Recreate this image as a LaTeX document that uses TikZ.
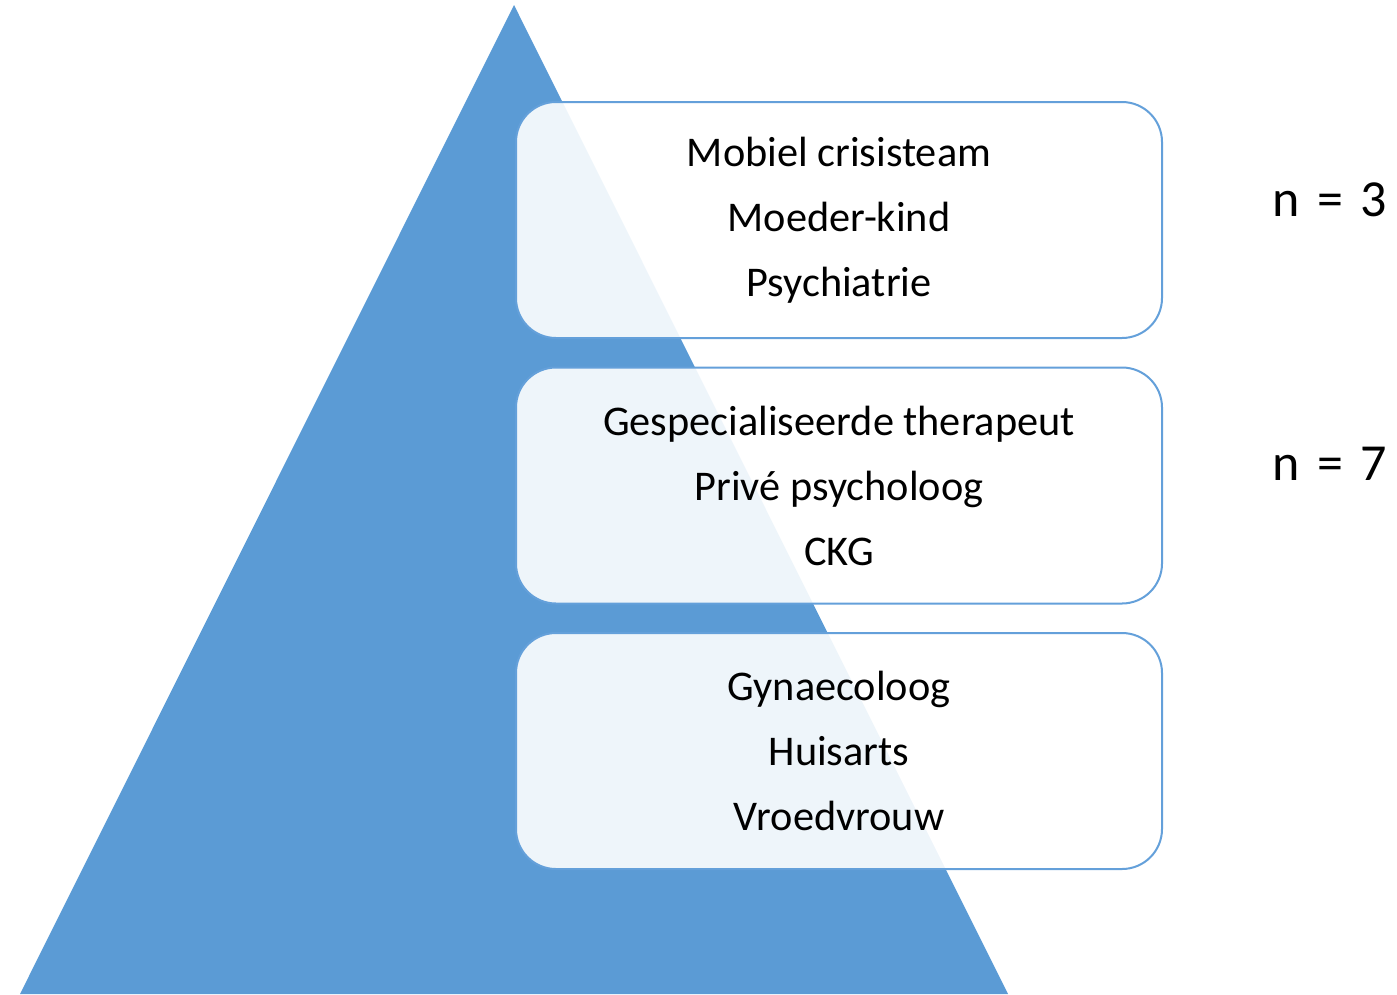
\documentclass[tikz,border=0pt]{standalone}
\usepackage{fontspec}
\setmainfont{Carlito}
\definecolor{pyr}{RGB}{91,155,213}
\definecolor{edge}{RGB}{100,160,218}
\tikzset{
  tier/.style={draw=edge, line width=2pt, fill=white, fill opacity=0.9, text opacity=1, rounded corners=40pt, minimum width=646pt, minimum height=236pt, align=center, font=\fontsize{42.3}{65}\selectfont, inner sep=0pt},
  count/.style={font=\fontsize{52}{60}\selectfont, anchor=west, inner sep=0pt}
}
\begin{document}
\begin{tikzpicture}[x=1pt,y=-1pt]
\useasboundingbox (0,0) rectangle (1397,994);
\fill[pyr] (514,5) -- (1008,994) -- (20,994) -- cycle;
\node[tier] (t1) at (839,220) {Mobiel crisisteam\\Moeder-kind\\Psychiatrie};
\node[tier] (t2) at (839,485.5) {Gespecialiseerde therapeut\\Privé psycholoog\\CKG};
\node[tier] (t3) at (839,751) {Gynaecoloog\\Huisarts\\Vroedvrouw};
\node[count] (n1) at (1272,200) {n\hspace{6pt} = \hspace{6pt}3};
\node[count] (n2) at (1272,464) {n\hspace{6pt} = \hspace{6pt}7};
\end{tikzpicture}
\end{document}
